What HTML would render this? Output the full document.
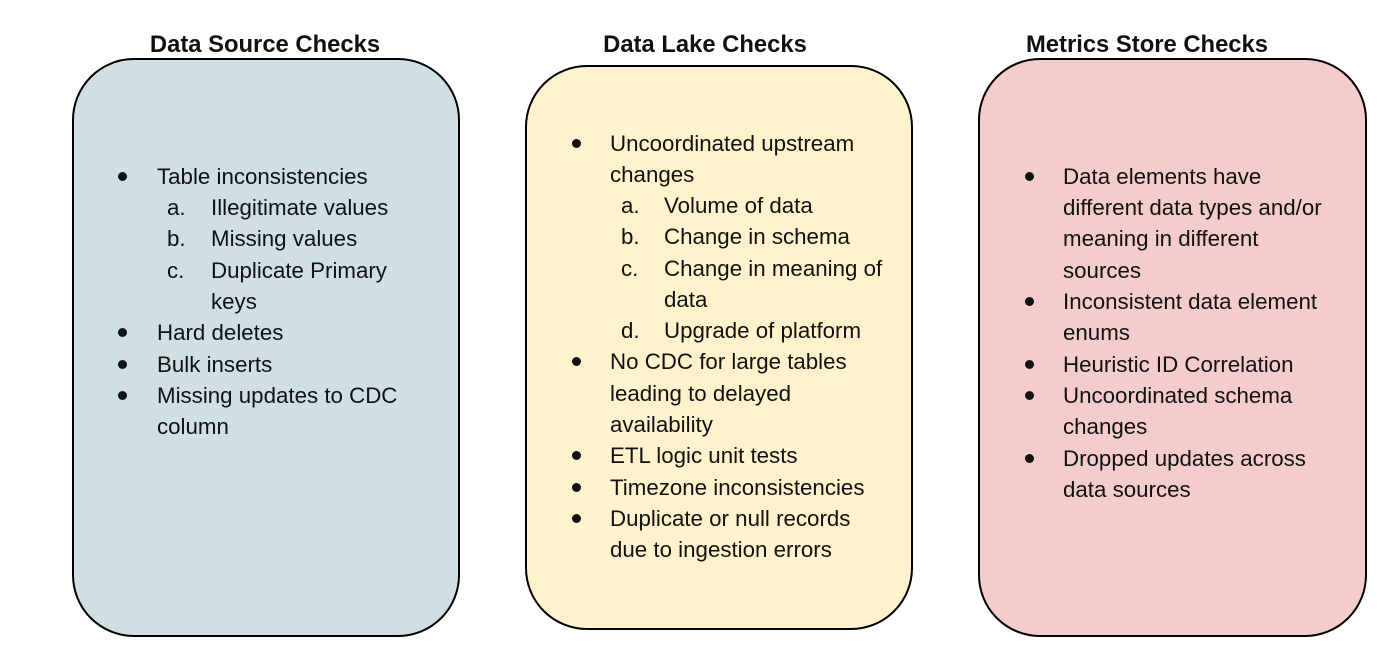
<!DOCTYPE html>
<html><head><meta charset="utf-8"><style>
body{margin:0;width:1400px;height:653px;background:#fff;position:relative;font-family:"Liberation Sans",Arial,sans-serif;color:#111;overflow:hidden}
.t{position:absolute;font-weight:bold;font-size:23.8px;text-align:center;width:400px;line-height:30px;top:30px}
.b{position:absolute;border:2px solid #000;border-radius:62px;box-sizing:border-box}
.l{position:absolute;font-size:22.3px;line-height:32px;white-space:nowrap}
.d{position:absolute;width:9px;height:9px;border-radius:50%;background:#111}
</style></head><body>
<div class="t" style="left:65px">Data Source Checks</div>
<div class="t" style="left:505px">Data Lake Checks</div>
<div class="t" style="left:947px">Metrics Store Checks</div>
<div class="b" style="left:72px;top:58px;width:388px;height:579px;background:#d0dfe3"></div>
<div class="b" style="left:525px;top:65px;width:388px;height:565px;background:#fff2cc"></div>
<div class="b" style="left:978px;top:58px;width:389px;height:579px;background:#f4cccc"></div>

<!-- box 1 -->
<div class="d" style="left:118px;top:172px"></div><div class="l" style="left:157px;top:161px">Table inconsistencies</div>
<div class="l" style="left:167px;top:192px">a.</div><div class="l" style="left:211px;top:192px">Illegitimate values</div>
<div class="l" style="left:167px;top:223px">b.</div><div class="l" style="left:211px;top:223px">Missing values</div>
<div class="l" style="left:167px;top:255px">c.</div><div class="l" style="left:211px;top:255px">Duplicate Primary</div>
<div class="l" style="left:211px;top:286px">keys</div>
<div class="d" style="left:118px;top:328px"></div><div class="l" style="left:157px;top:317px">Hard deletes</div>
<div class="d" style="left:118px;top:360px"></div><div class="l" style="left:157px;top:349px">Bulk inserts</div>
<div class="d" style="left:118px;top:391px"></div><div class="l" style="left:157px;top:380px">Missing updates to CDC</div>
<div class="l" style="left:157px;top:411px">column</div>

<!-- box 2 -->
<div class="d" style="left:572px;top:139px"></div><div class="l" style="left:610px;top:128px">Uncoordinated upstream</div>
<div class="l" style="left:610px;top:159px">changes</div>
<div class="l" style="left:621px;top:190px">a.</div><div class="l" style="left:664px;top:190px">Volume of data</div>
<div class="l" style="left:621px;top:221px">b.</div><div class="l" style="left:664px;top:221px">Change in schema</div>
<div class="l" style="left:621px;top:253px">c.</div><div class="l" style="left:664px;top:253px">Change in meaning of</div>
<div class="l" style="left:664px;top:284px">data</div>
<div class="l" style="left:621px;top:315px">d.</div><div class="l" style="left:664px;top:315px">Upgrade of platform</div>
<div class="d" style="left:572px;top:357px"></div><div class="l" style="left:610px;top:346px">No CDC for large tables</div>
<div class="l" style="left:610px;top:378px">leading to delayed</div>
<div class="l" style="left:610px;top:409px">availability</div>
<div class="d" style="left:572px;top:451px"></div><div class="l" style="left:610px;top:440px">ETL logic unit tests</div>
<div class="d" style="left:572px;top:483px"></div><div class="l" style="left:610px;top:472px">Timezone inconsistencies</div>
<div class="d" style="left:572px;top:514px"></div><div class="l" style="left:610px;top:503px">Duplicate or null records</div>
<div class="l" style="left:610px;top:534px">due to ingestion errors</div>

<!-- box 3 -->
<div class="d" style="left:1025px;top:172px"></div><div class="l" style="left:1063px;top:161px">Data elements have</div>
<div class="l" style="left:1063px;top:192px">different data types and/or</div>
<div class="l" style="left:1063px;top:223px">meaning in different</div>
<div class="l" style="left:1063px;top:255px">sources</div>
<div class="d" style="left:1025px;top:297px"></div><div class="l" style="left:1063px;top:286px">Inconsistent data element</div>
<div class="l" style="left:1063px;top:317px">enums</div>
<div class="d" style="left:1025px;top:360px"></div><div class="l" style="left:1063px;top:349px">Heuristic ID Correlation</div>
<div class="d" style="left:1025px;top:391px"></div><div class="l" style="left:1063px;top:380px">Uncoordinated schema</div>
<div class="l" style="left:1063px;top:411px">changes</div>
<div class="d" style="left:1025px;top:454px"></div><div class="l" style="left:1063px;top:443px">Dropped updates across</div>
<div class="l" style="left:1063px;top:474px">data sources</div>
</body></html>
